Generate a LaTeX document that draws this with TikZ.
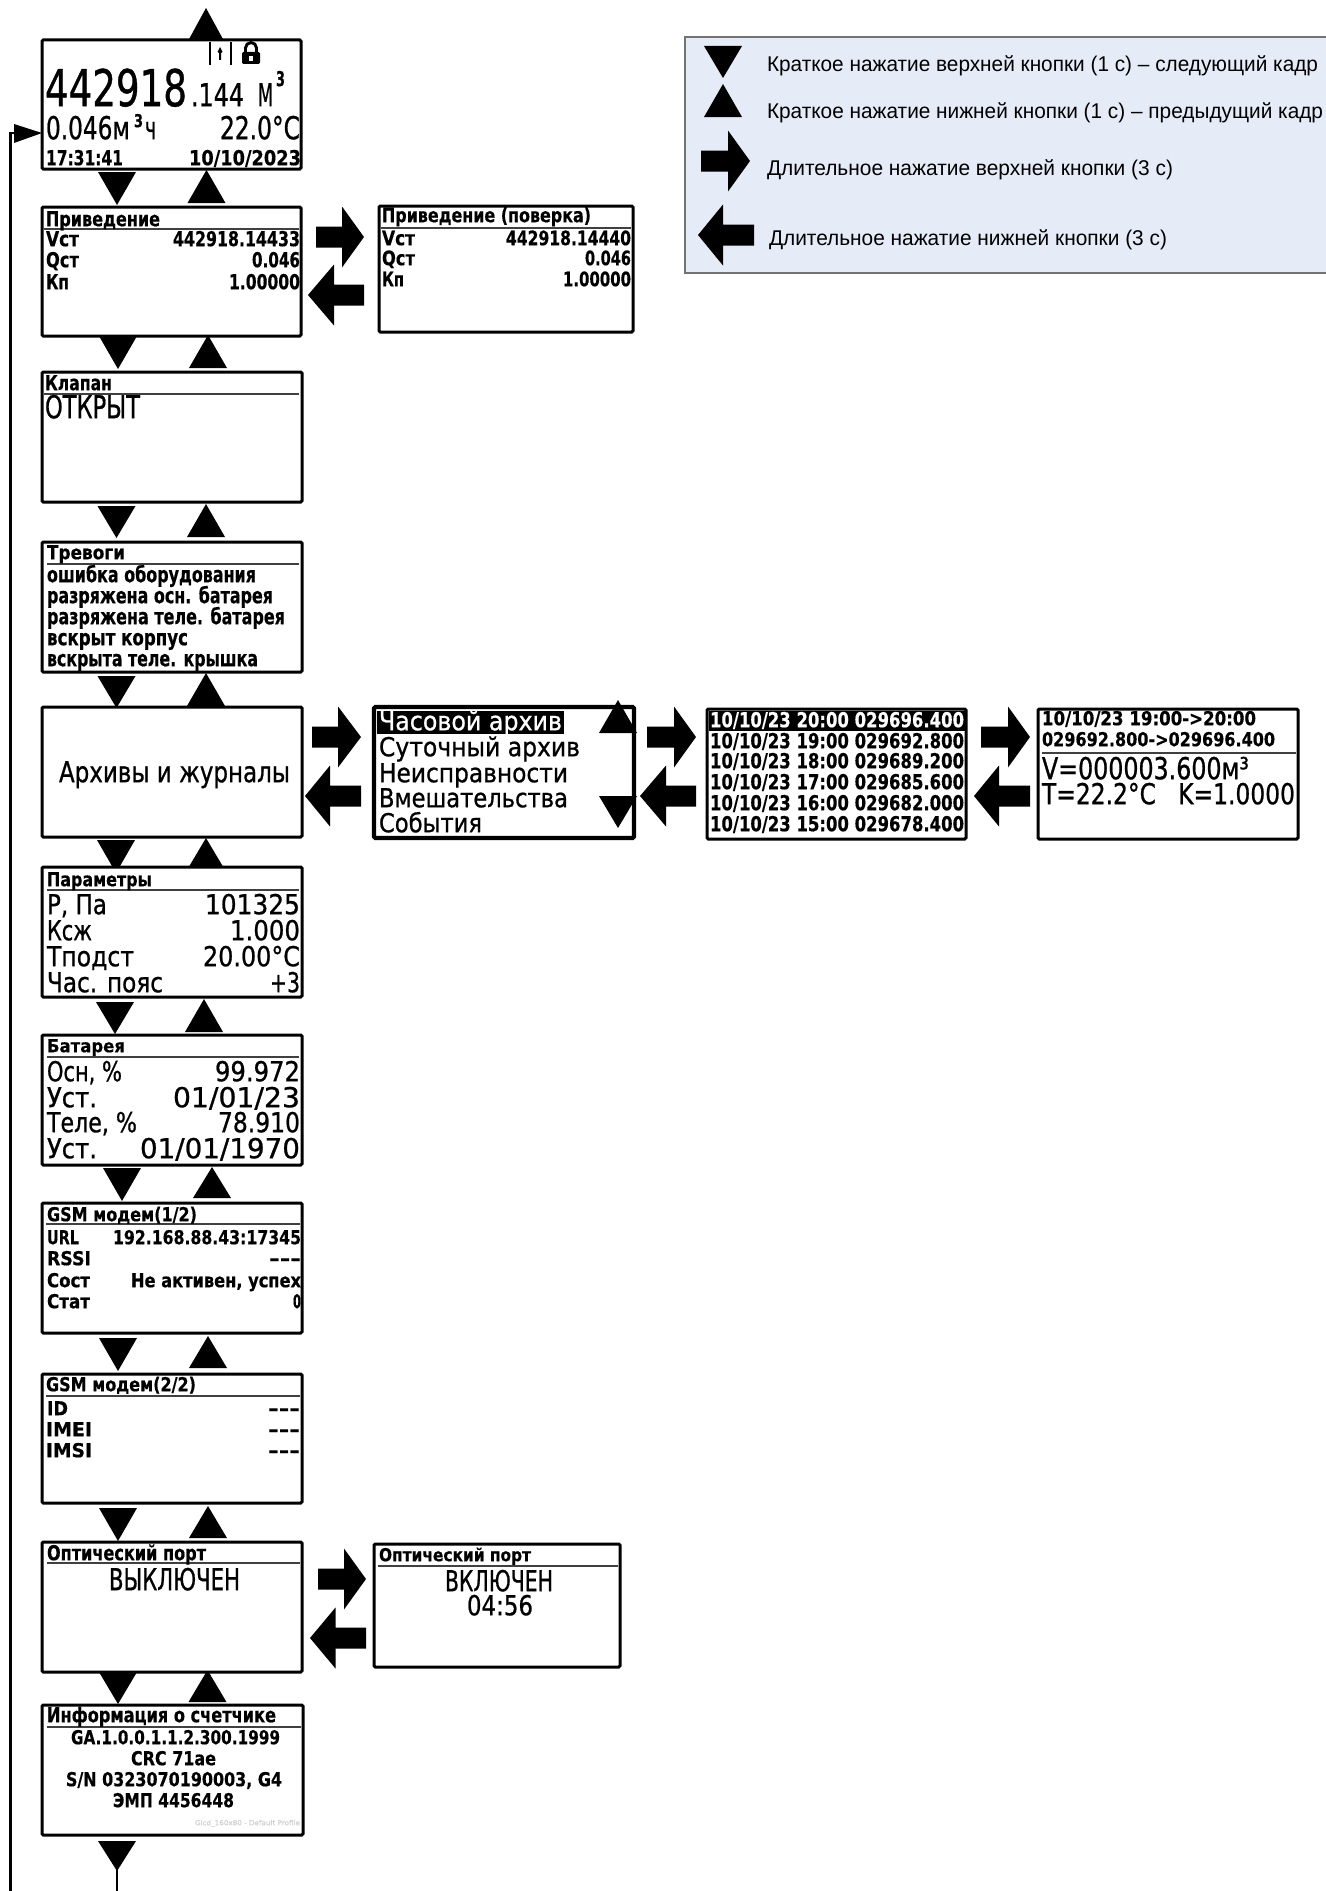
\documentclass[tikz,border=0pt]{standalone}
\usepackage{fontspec}
\usepackage{graphicx}
\setmainfont{DejaVu Sans}[FakeBold=0.9,BoldFont={DejaVu Sans Bold},BoldFeatures={FakeBold=0.5}]
\newfontfamily\legfont{Liberation Sans}
\newsavebox\tbox
\newcounter{tcnt}
\definecolor{legfill}{HTML}{E6ECF7}
\tikzset{
  screenbox/.style={draw=black,fill=white,line width=2.25pt,rounded corners=1pt,inner sep=0pt,outer sep=0pt,anchor=north west},
  heavybox/.style={screenbox,line width=3.2pt},
  hrule/.style={draw=black!75,line width=1.1pt},
  pointer/.style={fill=black,draw=none},
  loopline/.style={draw=black,line width=2.2pt},
  txt/.style={inner sep=0pt,outer sep=0pt}
}
% name, x1, y1, x2, y2, style
\newcommand\scr[6][screenbox]{%
  \pgfmathsetmacro\bw{(#5-#3)*0.75}\pgfmathsetmacro\bh{(#6-#4)*0.75}%
  \node[#1,minimum width=\bw pt,minimum height=\bh pt] (#2) at (#3,#4) {};}
% width px, box contents: set at natural size, then scaled horizontally to the width
\newcommand\fitbox[2]{%
  \sbox\tbox{#2}%
  \pgfmathsetmacro\rr{#1*0.75/\the\wd\tbox}%
  \scalebox{\rr}[1]{\usebox\tbox}}
% anchor, x, baseline, width px, capheight px, text
\newcommand\lt[6]{%
  \stepcounter{tcnt}%
  \node[txt,anchor=#1] (txt\arabic{tcnt}) at (#2,#3-0.8) {%
    \pgfmathsetmacro\fsz{#5*0.75/0.729}%
    \fitbox{#4}{\normalfont\fontsize{\fsz pt}{\fsz pt}\selectfont #6}};}
% legend text: x, baseline, width, text
\newcommand\leg[4]{%
  \stepcounter{tcnt}%
  \node[txt,anchor=base west] (txt\arabic{tcnt}) at (#1,#2) {%
    \fitbox{#3}{\legfont\fontsize{16pt}{16pt}\selectfont #4}};}
\newcommand\arrD[3]{\fill[pointer] (#1-19,#2) -- (#1+19,#2) -- (#1,#3) -- cycle;}
\newcommand\arrU[3]{\fill[pointer] (#1-19,#3) -- (#1+19,#3) -- (#1,#2) -- cycle;}
% tail x, head base x, tip x, cy
\newcommand\arrH[4]{\fill[pointer] (#1,#4-10.5) -- (#2,#4-10.5) -- (#2,#4-30.5) -- (#3,#4) -- (#2,#4+30.5) -- (#2,#4+10.5) -- (#1,#4+10.5) -- cycle;}
\begin{document}
\begin{tikzpicture}[x=0.75pt,y=-0.75pt]
\useasboundingbox (0,0) rectangle (1325,1891);
\fill[white] (0,0) rectangle (1325,1891);

% legend
\draw[draw=black!55,fill=legfill,line width=0.8pt] (685,37) rectangle (1332,273);
\arrD{723}{46}{78}
\arrU{723}{84}{117}
\arrH{701}{728}{750}{161}
\arrH{754}{723}{698}{235}
\leg{767}{72}{551}{Краткое нажатие верхней кнопки (1 с) – следующий кадр}
\leg{767}{118}{556}{Краткое нажатие нижней кнопки (1 с) – предыдущий кадр}
\leg{767}{175}{406}{Длительное нажатие верхней кнопки (3 с)}
\leg{769}{245}{398}{Длительное нажатие нижней кнопки (3 с)}

% vertical arrows
\fill[pointer] (188,41) -- (224,41) -- (206,8) -- cycle;
\arrD{117}{172}{205}\arrU{206.5}{170}{203}
\arrD{118}{336}{369}\arrU{208}{335}{368}
\arrD{116.5}{506}{538}\arrU{206}{504}{537}
\arrD{116.5}{676}{708}\arrU{206}{673}{706}
\arrD{116}{840}{873}\arrU{206}{838}{870}
\arrD{115}{1002}{1034}\arrU{204}{999}{1032}
\arrD{122}{1168}{1201}\arrU{212}{1167}{1198}
\arrD{118}{1338}{1371}\arrU{208}{1336}{1368}
\arrD{118}{1508}{1541}\arrU{208}{1506}{1538}
\arrD{118}{1672}{1704}\arrU{207.5}{1670}{1702}
\arrD{117}{1841}{1871}

% screens
\scr{b1}{42}{40}{301}{169}
\scr{b2}{42}{207}{301}{336}
\scr{b2b}{379}{206}{633}{332}
\scr{b3}{42}{372}{302}{502}
\scr{b4}{42}{542}{302}{672}
\scr{b5}{42}{707}{302}{837}
\scr[heavybox]{b5b}{374}{707}{634}{838}
\scr{b5c}{707}{709}{966}{839}
\scr{b5d}{1038}{709}{1298}{839}
\scr{b6}{42}{867}{302}{997}
\scr{b7}{42}{1035}{302}{1165}
\scr{b8}{42}{1203}{302}{1333}
\scr{b9}{42}{1374}{302}{1503}
\scr{b10}{42}{1542}{302}{1672}
\scr{b10b}{374}{1544}{620}{1667}
\scr{b11}{42}{1705}{303}{1835}

% horizontal arrows
\arrH{316}{342}{364}{237}
\arrH{364}{334}{308}{295}
\arrH{312}{338}{361}{737}
\arrH{361}{330}{305}{796}
\arrH{647}{674}{696}{737}
\arrH{696}{666}{640}{796}
\arrH{981}{1008}{1030}{737}
\arrH{1030}{999}{974}{796}
\arrH{318}{344}{366}{1579}
\arrH{366}{335.5}{310}{1638}

% feedback line
\coordinate (stemtop) at (117,1870);
\coordinate (stembot) at (117,1891);
\coordinate (loopbot) at (10.5,1891);
\coordinate (looptop) at (10.5,133);
\coordinate (loopend) at (16,133);
\draw[loopline] (stemtop) -- (stembot);
\draw[loopline,line cap=rect] (loopbot) -- (looptop) -- (loopend);
\fill[pointer] (14,124) -- (14,143) -- (42,133) -- cycle;

% b1
\draw[line width=2pt] (210,42) -- (210,65) (231,42) -- (231,65);
\fill (220,47) -- (222.5,52) -- (221,53) -- (221,60) -- (219,60) -- (219,53) -- (217.5,52) -- cycle;
\fill[rounded corners=1pt] (242,52) rectangle (260,64);
\draw[line width=2.2pt] (245.5,53) -- (245.5,48) arc (180:360:5.5) -- (256.5,53);
\fill[white] (249,56) rectangle (253,61);
\lt{base west}{45}{107}{142}{37}{442918}
\lt{base west}{191}{107}{53}{23}{.144}
\lt{base west}{258}{107}{15}{23}{М}
\lt{base west}{276}{87}{9}{15}{\bfseries 3}
\lt{base west}{46}{140}{84}{23}{0.046м}
\lt{base west}{134}{128}{9}{13}{\bfseries 3}
\lt{base west}{145}{140}{11}{23}{ч}
\lt{base east}{300}{140}{80}{23}{22.0°C}
\lt{base west}{46}{166}{77}{15}{\bfseries 17:31:41}
\lt{base east}{301}{166}{112}{15}{\bfseries 10/10/2023}

% b2
\draw[hrule] (44,229) -- (299,229);
\lt{base west}{46}{227}{114}{15}{\bfseries Приведение}
\lt{base west}{46}{247}{33}{15}{\bfseries Vст}
\lt{base east}{300}{247}{127}{15}{\bfseries 442918.14433}
\lt{base west}{46}{268}{33}{15}{\bfseries Qст}
\lt{base east}{300}{268}{48}{15}{\bfseries 0.046}
\lt{base west}{46}{290}{23}{15}{\bfseries Кп}
\lt{base east}{300}{290}{71}{15}{\bfseries 1.00000}

% b2b
\draw[hrule] (381,228) -- (631,228);
\lt{base west}{382}{223}{209}{14.5}{\bfseries Приведение (поверка)}
\lt{base west}{382}{246}{33}{14.5}{\bfseries Vст}
\lt{base east}{631}{246}{125}{14.5}{\bfseries 442918.14440}
\lt{base west}{382}{266}{33}{14.5}{\bfseries Qст}
\lt{base east}{631}{266}{46}{14.5}{\bfseries 0.046}
\lt{base west}{382}{287}{22}{14.5}{\bfseries Кп}
\lt{base east}{631}{287}{68}{14.5}{\bfseries 1.00000}

% b3
\draw[hrule] (44,394) -- (299,394);
\lt{base west}{45}{391}{67}{15}{\bfseries Клапан}
\lt{base west}{45}{419}{95}{23}{ОТКРЫТ}

% b4
\draw[hrule] (47,564) -- (299,564);
\lt{base west}{47}{560}{78}{14}{\bfseries Тревоги}
\lt{base west}{47}{583}{209}{16}{\bfseries ошибка оборудования}
\lt{base west}{47}{604}{226}{16}{\bfseries разряжена осн. батарея}
\lt{base west}{47}{625}{238}{16}{\bfseries разряжена теле. батарея}
\lt{base west}{47}{646}{141}{16}{\bfseries вскрыт корпус}
\lt{base west}{47}{667}{211}{16}{\bfseries вскрыта теле. крышка}

% b5
\lt{base west}{59}{783}{231}{21}{Архивы и журналы}

% b5b
\fill (377,711) rectangle (564,734);
\lt{base west}{379}{731}{183}{19}{\color{white}Часовой архив}
\lt{base west}{379}{757}{201}{19}{Суточный архив}
\lt{base west}{379}{783}{189}{19}{Неисправности}
\lt{base west}{379}{808}{189}{19}{Вмешательства}
\lt{base west}{379}{833}{103}{19}{События}
\arrU{618}{700}{733}
\arrD{618}{796}{828}

% b5c
\fill (709,711) rectangle (965,731);
\lt{base west}{710}{728}{254}{15}{\bfseries\color{white}10/10/23 20:00 029696.400}
\lt{base west}{710}{749}{254}{15}{\bfseries 10/10/23 19:00 029692.800}
\lt{base west}{710}{769}{254}{15}{\bfseries 10/10/23 18:00 029689.200}
\lt{base west}{710}{790}{254}{15}{\bfseries 10/10/23 17:00 029685.600}
\lt{base west}{710}{811}{254}{15}{\bfseries 10/10/23 16:00 029682.000}
\lt{base west}{710}{832}{254}{15}{\bfseries 10/10/23 15:00 029678.400}

% b5d
\draw[hrule] (1042,753) -- (1296,753);
\lt{base west}{1042}{726}{214}{14}{\bfseries 10/10/23 19:00->20:00}
\lt{base west}{1042}{747}{233}{14}{\bfseries 029692.800->029696.400}
\lt{base west}{1042}{780}{207}{22}{V=000003.600м³}
\lt{base west}{1042}{805}{253}{21}{T=22.2°C\ \ \ K=1.0000}

% b6
\draw[hrule] (47,890) -- (299,890);
\lt{base west}{47}{887}{105}{14}{\bfseries Параметры}
\lt{base west}{47}{915}{60}{20}{Р, Па}
\lt{base east}{300}{915}{95}{20}{101325}
\lt{base west}{47}{941}{45}{20}{Ксж}
\lt{base east}{300}{941}{70}{20}{1.000}
\lt{base west}{47}{967}{87}{20}{Тподст}
\lt{base east}{300}{967}{97}{20}{20.00°C}
\lt{base west}{47}{993}{116}{20}{Час. пояс}
\lt{base east}{300}{993}{30}{20}{+3}

% b7
\draw[hrule] (47,1057) -- (299,1057);
\lt{base west}{47}{1053}{78}{13}{\bfseries Батарея}
\lt{base west}{47}{1082}{75}{20}{Осн, \%}
\lt{base east}{300}{1082}{85}{20}{99.972}
\lt{base west}{47}{1108}{50}{20}{Уст.}
\lt{base east}{300}{1108}{127}{20}{01/01/23}
\lt{base west}{47}{1133}{90}{20}{Теле, \%}
\lt{base east}{300}{1133}{82}{20}{78.910}
\lt{base west}{47}{1159}{50}{20}{Уст.}
\lt{base east}{300}{1159}{160}{20}{01/01/1970}

% b8
\draw[hrule] (46,1224) -- (300,1224);
\lt{base west}{47}{1222}{150}{14}{\bfseries GSM модем(1/2)}
\lt{base west}{47}{1245}{32}{14}{\bfseries URL}
\lt{base east}{301}{1245}{188}{14}{\bfseries 192.168.88.43:17345}
\lt{base west}{47}{1266}{44}{14}{\bfseries RSSI}
\lt{base east}{301}{1266}{32}{14}{\bfseries -{}-{}-}
\lt{base west}{47}{1288}{43}{14}{\bfseries Сост}
\lt{base east}{301}{1288}{170}{14}{\bfseries Не активен, успех}
\lt{base west}{47}{1309}{43}{14}{\bfseries Стат}
\lt{base east}{301}{1309}{8}{14}{\bfseries 0}

% b9
\draw[hrule] (46,1396) -- (300,1396);
\lt{base west}{46}{1392}{150}{14}{\bfseries GSM модем(2/2)}
\lt{base west}{47}{1416}{21}{14}{\bfseries ID}
\lt{base east}{300}{1416}{32}{14}{\bfseries -{}-{}-}
\lt{base west}{46}{1437}{46}{14}{\bfseries IMEI}
\lt{base east}{300}{1437}{32}{14}{\bfseries -{}-{}-}
\lt{base west}{46}{1458}{46}{14}{\bfseries IMSI}
\lt{base east}{300}{1458}{32}{14}{\bfseries -{}-{}-}

% b10
\draw[hrule] (47,1563) -- (300,1563);
\lt{base west}{47}{1561}{159}{15}{\bfseries Оптический порт}
\lt{base west}{109}{1591}{131}{22}{ВЫКЛЮЧЕН}

% b10b
\draw[hrule] (378,1566) -- (618,1566);
\lt{base west}{379}{1562}{152}{13}{\bfseries Оптический порт}
\lt{base west}{445}{1592}{108}{21}{ВКЛЮЧЕН}
\lt{base west}{467}{1616}{66}{20}{04:56}

% b11
\draw[hrule] (47,1727) -- (301,1727);
\lt{base west}{47}{1723}{229}{15}{\bfseries Информация о счетчике}
\lt{base west}{71}{1745}{209}{14}{\bfseries GA.1.0.0.1.1.2.300.1999}
\lt{base west}{131}{1766}{85}{14}{\bfseries CRC 71ae}
\lt{base west}{66}{1787}{216}{14}{\bfseries S/N 0323070190003, G4}
\lt{base west}{113}{1808}{121}{14}{\bfseries ЭМП 4456448}
\lt{base west}{195}{1826}{105}{5}{\color{black!18}Glcd\_160x80 - Default Profile}
\end{tikzpicture}
\end{document}
